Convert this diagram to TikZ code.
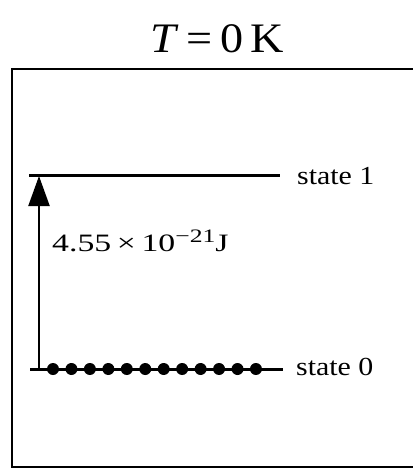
\documentclass[tikz,border=0pt]{standalone}
\usepackage{fontspec}
\setmainfont{Liberation Serif}
\usetikzlibrary{arrows.meta}
\begin{document}
\begin{tikzpicture}[x=1pt,y=-1pt,
  level/.style={line width=3pt},
  txt/.style={inner sep=0pt,anchor=base west},
  electron/.style={circle,fill=black,inner sep=0pt,minimum size=12pt}]
\useasboundingbox (0,0) rectangle (412,470);
% frame
\draw[line width=2.6pt] (420,69) -- (12,69) -- (12,467) -- (420,467);
% title
\node[txt] (title) at (150,53) {\scalebox{1.1}[1]{\fontsize{42}{48}\selectfont \textit{T}\,=\,0\,K}};
% levels
\coordinate (s1a) at (29,176);
\coordinate (s1b) at (280,176);
\coordinate (s0a) at (30,369);
\coordinate (s0b) at (283,369);
\draw[level] (s1a) -- (s1b);
\draw[level] (s0a) -- (s0b);
\node[txt] (l1) at (297,184) {\scalebox{1.15}[1]{\fontsize{26}{30}\selectfont state 1}};
\node[txt] (l0) at (296,375) {\scalebox{1.15}[1]{\fontsize{26}{30}\selectfont state 0}};
% arrow
\coordinate (a0) at (39,369);
\coordinate (a1) at (39,176);
\draw[line width=2.2pt,-{Triangle[length=30pt,width=21pt]}] (a0) -- (a1);
\node[txt] (en) at (52,251) {\scalebox{1.35}[1]{\fontsize{25}{30}\selectfont 4.55\,×\,10\raisebox{9pt}{\fontsize{19}{22}\selectfont −21}J}};
% electrons
\foreach \i in {0,...,11} {
  \node[electron] (e\i) at ({53+\i*18.45},369) {};
}
\end{tikzpicture}
\end{document}
